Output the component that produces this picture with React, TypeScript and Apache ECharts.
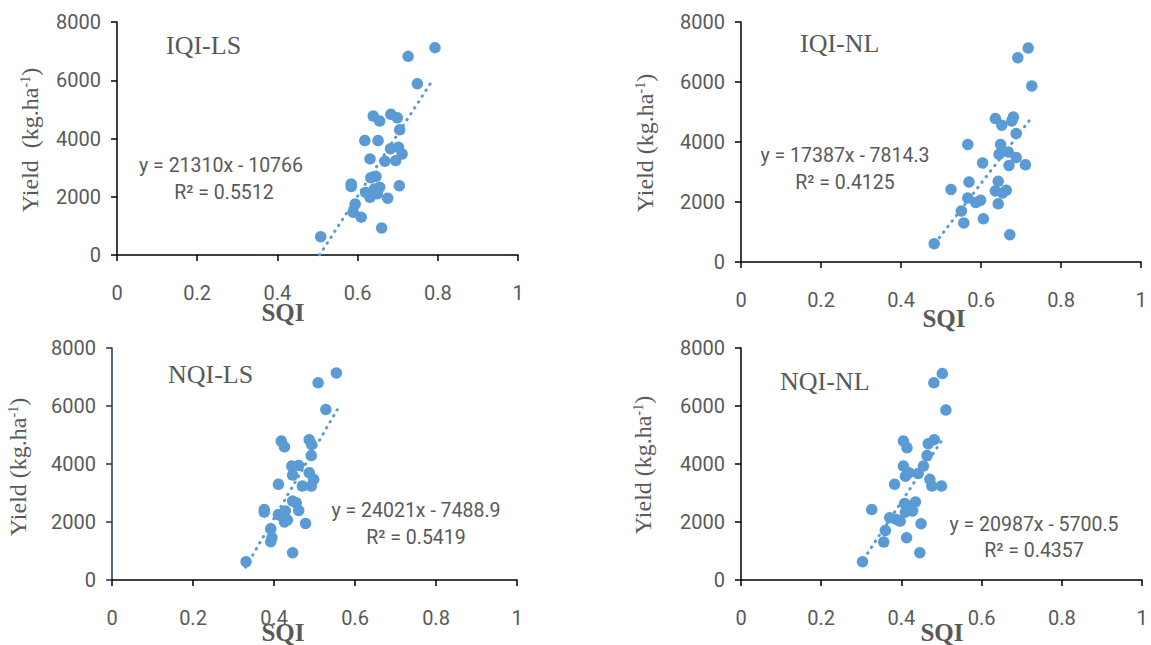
import React, { useEffect, useRef } from "react";
import * as echarts from "echarts";

// ---------- data ----------
const panelNames = ["IQI-LS", "IQI-NL", "NQI-LS", "NQI-NL"];
const equations = ["y = 21310x - 10766", "y = 17387x - 7814.3", "y = 24021x - 7488.9", "y = 20987x - 5700.5"];
const rSquared = ["R² = 0.5512", "R² = 0.4125", "R² = 0.5419", "R² = 0.4357"];
const xTitle = "SQI";
const yTitles = ["Yield  (kg.ha", "Yield (kg.ha", "Yield (kg.ha", "Yield (kg.ha"];

const iqiLsSqi = [0.793, 0.726, 0.749, 0.639, 0.655, 0.683, 0.699, 0.705, 0.618, 0.651, 0.682, 0.702, 0.711, 0.695, 0.668, 0.631, 0.633, 0.646, 0.584, 0.584, 0.704, 0.620, 0.631, 0.642, 0.655, 0.649, 0.675, 0.594, 0.589, 0.609, 0.660, 0.508];
const iqiLsYield = [7120, 6820, 5880, 4770, 4600, 4830, 4710, 4300, 3930, 3930, 3650, 3700, 3470, 3240, 3220, 3300, 2650, 2700, 2440, 2350, 2380, 2150, 1980, 2270, 2330, 2100, 1950, 1750, 1470, 1300, 930, 630];

const iqiNlSqi = [0.718, 0.692, 0.727, 0.636, 0.652, 0.681, 0.677, 0.688, 0.567, 0.649, 0.645, 0.668, 0.688, 0.670, 0.711, 0.604, 0.570, 0.643, 0.525, 0.636, 0.663, 0.654, 0.567, 0.587, 0.599, 0.643, 0.551, 0.557, 0.606, 0.672, 0.483];
const iqiNlYield = [7130, 6810, 5870, 4780, 4560, 4830, 4700, 4280, 3920, 3920, 3590, 3670, 3480, 3220, 3240, 3300, 2670, 2690, 2420, 2370, 2390, 2300, 2130, 1980, 2060, 1940, 1700, 1300, 1440, 910, 610];

const nqiLsSqi = [0.554, 0.509, 0.528, 0.418, 0.426, 0.487, 0.493, 0.492, 0.444, 0.461, 0.446, 0.487, 0.498, 0.492, 0.470, 0.411, 0.446, 0.455, 0.376, 0.376, 0.461, 0.415, 0.428, 0.433, 0.426, 0.478, 0.392, 0.395, 0.392, 0.446, 0.331, 0.411];
const nqiLsYield = [7140, 6800, 5880, 4790, 4590, 4840, 4670, 4290, 3930, 3950, 3620, 3700, 3470, 3240, 3240, 3300, 2720, 2660, 2430, 2340, 2400, 2230, 2380, 2070, 2000, 1950, 1770, 1460, 1320, 940, 630, 2260];

const nqiNlSqi = [0.502, 0.481, 0.511, 0.405, 0.414, 0.482, 0.467, 0.464, 0.405, 0.455, 0.410, 0.442, 0.471, 0.476, 0.500, 0.383, 0.408, 0.435, 0.326, 0.410, 0.428, 0.371, 0.397, 0.387, 0.449, 0.360, 0.356, 0.413, 0.446, 0.303, 0.419, 0.419];
const nqiNlYield = [7120, 6800, 5860, 4790, 4560, 4840, 4700, 4290, 3930, 3930, 3580, 3670, 3470, 3240, 3240, 3300, 2640, 2690, 2430, 2340, 2380, 2150, 2030, 2090, 1940, 1710, 1310, 1460, 940, 630, 2430, 3700];

// trend line endpoints [x, y]
const trendIqiLs = [[0.505, 0], [0.785, 5960]];
const trendIqiNl = [[0.485, 620], [0.725, 4790]];
const trendNqiLs = [[0.33, 440], [0.556, 5870]];
const trendNqiNl = [[0.306, 720], [0.503, 4860]];

const xTicks = { min: 0, max: 1, interval: 0.2 };
const yTicks = { min: 0, max: 8000, interval: 2000 };

// ---------- layout ----------
const grids = [
  { left: 117, top: 22, width: 401, height: 233 },
  { left: 741, top: 22, width: 400, height: 240 },
  { left: 112, top: 348, width: 405, height: 232 },
  { left: 741, top: 348, width: 401, height: 232 },
];
const yAxisColors = ["#000", "#000", "#1F3566", "#000"];
const titlePos = [[166, 45], [800, 43], [168, 374], [780, 381]];
const eqPos = [[221, 165], [845, 155], [416, 510], [1034, 524]];
const r2Pos = [[224, 192], [845, 182], [416, 537], [1034, 550]];
const sqiPos = [[283, 312], [944, 318], [283, 632], [942, 632]];
const yTitlePos = [[30, 140], [645, 143], [18, 467], [643, 465]];

const BLUE = "#5B9BD5";
const GRAY = "#595959";
const SANS = "Roboto";
const SERIF = "'Liberation Serif', 'Times New Roman', serif";

export default function App() {
  const ref = useRef<HTMLDivElement>(null);

  useEffect(() => {
    document.body.style.margin = "0";
    if (!ref.current) return;
    const chart = echarts.init(ref.current, null, { renderer: "svg" });

    const xs = [iqiLsSqi, iqiNlSqi, nqiLsSqi, nqiNlSqi];
    const ys = [iqiLsYield, iqiNlYield, nqiLsYield, nqiNlYield];
    const trends = [trendIqiLs, trendIqiNl, trendNqiLs, trendNqiNl];

    const xAxis = grids.map((_, i) => ({
      gridIndex: i,
      type: "value",
      ...xTicks,
      axisLine: { show: true, onZero: false, lineStyle: { color: "#000", width: 1.5 } },
      axisTick: { show: true, length: 6, lineStyle: { color: "#000", width: 1.5 } },
      axisLabel: { margin: 28, color: GRAY, fontFamily: SANS, fontSize: 20, formatter: (v: number) => String(v) },
      splitLine: { show: false },
    }));
    const yAxis = grids.map((_, i) => ({
      gridIndex: i,
      type: "value",
      ...yTicks,
      axisLine: { show: true, lineStyle: { color: yAxisColors[i], width: 1.5 } },
      axisTick: { show: true, length: 6, lineStyle: { color: yAxisColors[i], width: 1.5 } },
      axisLabel: { margin: 16, color: GRAY, fontFamily: SANS, fontSize: 20, formatter: (v: number) => String(v) },
      splitLine: { show: false },
    }));

    const series: any[] = [];
    grids.forEach((_, i) => {
      series.push({
        type: "scatter",
        xAxisIndex: i,
        yAxisIndex: i,
        symbol: "circle",
        symbolSize: 11.5,
        itemStyle: { color: BLUE, opacity: 1 },
        data: xs[i].map((x, k) => [x, ys[i][k]]),
        z: 2,
      });
      series.push({
        type: "line",
        xAxisIndex: i,
        yAxisIndex: i,
        symbol: "none",
        showSymbol: false,
        lineStyle: { color: BLUE, width: 3, type: [0.5, 6.5], cap: "round" },
        data: trends[i],
        z: 3,
      });
    });

    const graphic: any[] = [];
    grids.forEach((_, i) => {
      graphic.push({
        type: "text",
        x: titlePos[i][0],
        y: titlePos[i][1],
        style: { text: panelNames[i], font: `26px ${SERIF}`, fill: GRAY, align: "left", verticalAlign: "middle" },
      });
      graphic.push({
        type: "text",
        x: eqPos[i][0],
        y: eqPos[i][1],
        style: { text: equations[i], font: `19.5px ${SANS}`, fill: GRAY, align: "center", verticalAlign: "middle" },
      });
      graphic.push({
        type: "text",
        x: r2Pos[i][0],
        y: r2Pos[i][1],
        style: { text: rSquared[i], font: `19.5px ${SANS}`, fill: GRAY, align: "center", verticalAlign: "middle" },
      });
      graphic.push({
        type: "text",
        x: sqiPos[i][0],
        y: sqiPos[i][1],
        style: { text: xTitle, font: `bold 25px ${SERIF}`, fill: GRAY, align: "center", verticalAlign: "middle" },
      });
      graphic.push({
        type: "text",
        x: yTitlePos[i][0],
        y: yTitlePos[i][1],
        rotation: Math.PI / 2,
        style: {
          text: `{a|${yTitles[i]}}{s|-1}{a|)}`,
          align: "center",
          verticalAlign: "middle",
          rich: {
            a: { fontFamily: SERIF, fontSize: 24, fill: GRAY, color: GRAY, verticalAlign: "bottom" },
            s: { fontFamily: SERIF, fontSize: 14, fill: GRAY, color: GRAY, verticalAlign: "top" },
          },
        },
      });
    });

    chart.setOption({
      animation: false,
      backgroundColor: "#fff",
      grid: grids.map((g) => ({ ...g, containLabel: false })),
      xAxis,
      yAxis,
      series,
      graphic,
    });

    return () => chart.dispose();
  }, []);

  return <div ref={ref} style={{ width: 1151, height: 645 }} />;
}
